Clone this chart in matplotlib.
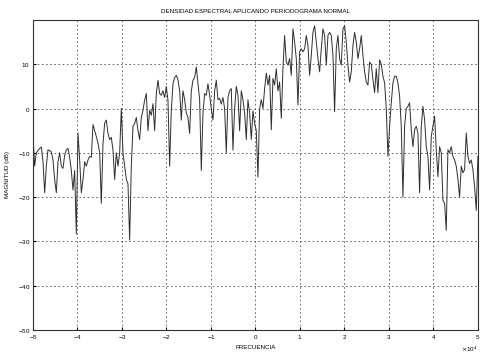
import numpy as np
import matplotlib
matplotlib.use('Agg')
import matplotlib.pyplot as plt

plt.rcParams['font.family'] = ['Liberation Sans', 'DejaVu Sans']
plt.rcParams['axes.formatter.use_mathtext'] = True

# periodogram magnitude in dB, one value per frequency bin (left to right)
mag_db = [
    # -5 .. -4
    -6, -13, -10, -9.5, -9, -8.7, -12, -19, -13, -9.3, -9.5, -9.8, -11.6, -16, -19,
    -12, -10, -13, -13.5, -10.5, -9.3, -9, -11, -14, -18.4, -14, -28.3, -5.5, -11.6,
    # -4 .. -3
    -19, -16, -12, -13, -11.6, -10.8, -11, -3.6, -5, -6.3, -7.8, -10, -21.4, -8, -3.3,
    # -3 .. -1.7
    -2.6, -5.6, -7, -6.5, -9.4, -16, -10, -13, -10, 0, -10, -13, -16, -17, -29.7,
    -13, -4, -3.4, -2, -5, -7, -2, -0.4, 1.9, 3.4, -5, -0.4, -1.5, 1.1, -5,
    3.4, 6.4, 3.4, 3, 4, 2.5, 5, 1.9, -13, -0.4, 5.6, 7, 7.5, 6.5, 4, -2.6,
    # -1.7 .. 0
    4, 2, -1, -2, -5.6, 4, 6.4, 7, 9.4, 5.6, 2, -14, -1, 3.4, 3, 5.6,
    3, 0, -2.6, 4, 6.4, 2, 2.3, 1, 2.5, 0, -10, 2.5, 4, 4.5, -9.4, 0,
    5, 3, -5, 4, 2, -1, -7, 2, -1, -7, -0.5, -3.4, -5, -15.5, 0,
    # 0 .. 2.5
    2, 0, 4.5, 8, 5.3, 7.5, -4.8, 6.8, 5.3, 9, 4, 6, -2.2, 9, 16.5, 10.5,
    9.8, 11.3, 7.5, 18, 15, 11.3, 0.8, 12.8, 13.5, 12.8, 13.5, 16.5, 14.2, 7.5, 12, 17.2,
    18.7, 15, 11.3, 8.3, 13.5, 18, 16.5, 9.8, 16.5, 17.2, 16.5, 12, -0.7, 13.5, 16.5, 11.3,
    9.8, 18, 18.7, 15, 9.8, 6, 8.3, 14.2, 17.2, 15, 11.3, 13.5, 16.5, 12, 8.3, 6,
    5.3, 10.5,
    # 2.5 .. 5
    10, 6.6, 3.6, 9, 3.6, 11, 10, 7.3, 5.8, 0, -10.8, -4, 1.3, 5.8, 7.3, 7.3,
    5.8, 2.8, -4, -20, -4, 0, 0.5, 1.3, -4.8, -8.6, -4.8, -4, -5.5, -19, -4, 0.5,
    -2.5, -8.6, -10.8, -18.4, -6.3, -4, -1.7, -9.3, -15.4, -8.6, -10, -20.7, -21.4, -27.5, -9.3, -10,
    -8.6, -10.8, -11.6, -13, -16, -20, -13, -14.5, -13.8, -5.5, -10.8, -12.4, -11.6, -13.8, -17.7, -23,
    -10.8,
]

# frequency bins from -fs/2 to fs/2
freq = np.linspace(-5e4, 5e4, len(mag_db))

x_ticks = np.arange(-5e4, 5.1e4, 1e4)
y_ticks = [-50, -40, -30, -20, -10, 0, 10]

fig = plt.figure(figsize=(4.81, 3.55), dpi=100)
ax = fig.add_axes([0.0686, 0.0704, 0.925, 0.8733])

ax.plot(freq, mag_db, color='#2e2e2e', linewidth=0.7)

ax.set_xlim(-5e4, 5e4)
ax.set_ylim(-50, 20)
ax.set_xticks(x_ticks)
ax.set_yticks(y_ticks)
ax.ticklabel_format(style='sci', axis='x', scilimits=(0, 0))
ax.grid(True, color='#555555', linestyle=(0, (2, 3)), linewidth=0.6)
ax.tick_params(direction='in', length=2, labelsize=4.5, pad=2)
ax.xaxis.get_offset_text().set_fontsize(4.5)

for s in ax.spines.values():
    s.set_linewidth(0.8)
    s.set_color('#333333')

ax.set_title('DENSIDAD ESPECTRAL APLICANDO PERIODOGRAMA NORMAL', fontsize=4.5, pad=5)
ax.set_xlabel('FRECUENCIA', fontsize=4.5, labelpad=3)
ax.set_ylabel('MAGNITUD (dB)', fontsize=4.5, labelpad=6)

fig.savefig('out.png', dpi=100)
